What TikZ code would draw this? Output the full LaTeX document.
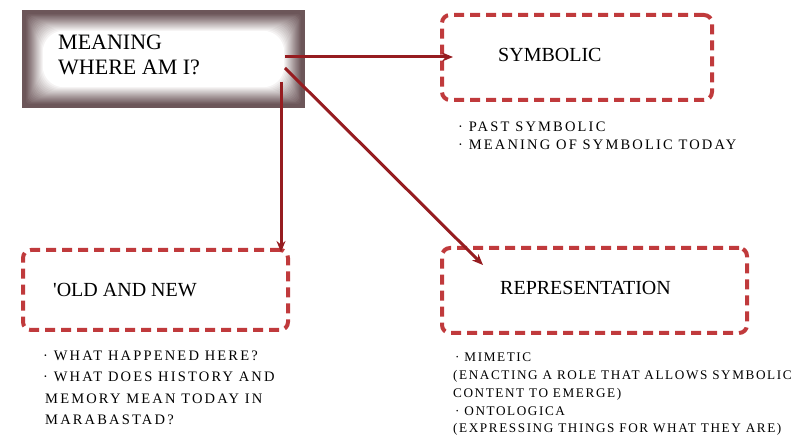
\documentclass[tikz,border=0pt]{standalone}
\usepackage{fontspec}
\setmainfont{Liberation Serif}
\newfontfamily\listfont[LetterSpace=15]{Liberation Serif}
\newfontfamily\replistfont[LetterSpace=12]{Liberation Serif}
\usetikzlibrary{arrows.meta}
\definecolor{glowc}{RGB}{108,86,89}
\definecolor{dashred}{RGB}{192,58,60}
\definecolor{arrred}{RGB}{150,28,32}
\tikzset{
  dbox/.style={draw=dashred, line width=4pt, dash pattern=on 10pt off 6pt, rounded corners=8pt, inner sep=0pt},
  conn/.style={draw=arrred, line width=3pt, -{Stealth[length=11pt,width=9pt]}},
  bigtitle/.style={anchor=base west, inner sep=0pt, font=\fontsize{22}{25}\selectfont},
  title/.style={anchor=base west, inner sep=0pt, font=\fontsize{20}{24}\selectfont},
  listline/.style={anchor=base west, inner sep=0pt, font=\listfont\fontsize{14.5}{18}\selectfont},
  repline/.style={anchor=base west, inner sep=0pt, font=\replistfont\fontsize{13.2}{16}\selectfont},
}
\begin{document}
\begin{tikzpicture}[x=1pt,y=-1pt]
\useasboundingbox (0,0) rectangle (809,435);
% main glowing box
\node[minimum width=283pt, minimum height=98pt, inner sep=0pt] (main) at (163.5,59) {};
\foreach \i in {0,...,22}{
  \pgfmathtruncatemacro\p{min(100, 100*(max(0,(\i-3)/18))^1.1)}
  \fill[white!\p!glowc, rounded corners=\i pt] ([shift={(\i,\i)}]main.north west) rectangle ([shift={(-\i,-\i)}]main.south east);
}
\node[bigtitle] (t1) at (58,50) {MEANING};
\node[bigtitle] (t2) at (58,75) {WHERE AM I?};
% dashed boxes
\node[dbox, minimum width=270pt, minimum height=85pt] (sym) at (577,57.5) {};
\node[dbox, minimum width=265pt, minimum height=80pt] (old) at (155.5,290) {};
\node[dbox, minimum width=305pt, minimum height=85pt] (rep) at (594.5,290.5) {};
\node[title] (symt) at (498,62) {SYMBOLIC};
\node[title] (oldt) at (53,297) {\textquotesingle OLD AND NEW};
\node[title] (rept) at (500,295) {REPRESENTATION};
% connectors
\coordinate (mA) at (285,57);
\coordinate (mB) at (285,68);
\coordinate (mC) at (281,82);
\coordinate (symEnd) at (453,57);
\coordinate (oldEnd) at (281,252);
\coordinate (repEnd) at (483,265);
\draw[conn] (mA) -- (symEnd);
\draw[conn] (mC) -- (oldEnd);
\draw[conn] (mB) -- (repEnd);
% lists
\node[listline] (s1) at (458,132) {· PAST SYMBOLIC};
\node[listline] (s2) at (458,150) {· MEANING OF SYMBOLIC TODAY};
\node[listline] (o1) at (43,361) {· WHAT HAPPENED HERE?};
\node[listline] (o2) at (43,382) {· WHAT DOES HISTORY AND};
\node[listline] (o3) at (45,404) {MEMORY MEAN TODAY IN};
\node[listline] (o4) at (45,425) {MARABASTAD?};
\node[repline] (r1) at (455,362) {· MIMETIC};
\node[repline] (r2) at (453,380) {(ENACTING A ROLE THAT ALLOWS SYMBOLIC};
\node[repline] (r3) at (453,398) {CONTENT TO EMERGE)};
\node[repline] (r4) at (455,416) {· ONTOLOGICA};
\node[repline] (r5) at (453,433) {(EXPRESSING THINGS FOR WHAT THEY ARE)};
\end{tikzpicture}
\end{document}
